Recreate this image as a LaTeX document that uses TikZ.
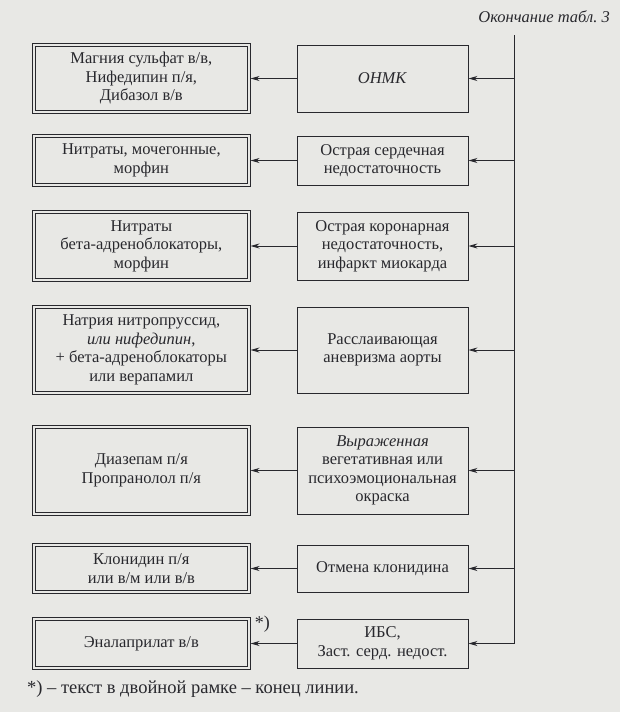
\documentclass[tikz,border=0pt]{standalone}
\usepackage{fontspec}
\setmainfont{Liberation Serif}
\usepackage{xcolor}
\usetikzlibrary{positioning}
\usetikzlibrary{arrows.meta}
\definecolor{paper}{RGB}{232,232,229}
\definecolor{ink}{RGB}{40,40,45}
\tikzstyle{cause} = [rectangle, minimum width=171pt, text centered, align=center, draw=ink, line width=0.9pt]
\tikzstyle{drug} = [rectangle, minimum width=215pt, text centered, align=center, draw=ink, line width=0.7pt, double=paper, double distance=2pt, outer sep=1.7pt]
\tikzstyle{arrow} = [line width=0.9pt, draw=ink, ->, >={Stealth[length=9pt,width=5pt]}]

\begin{document}
\begin{tikzpicture}[x=1pt, y=1pt, font=\fontsize{16.5}{18.5}\selectfont, text=ink]

    \fill [paper] (0,0) rectangle (620,-712);
    \useasboundingbox (0,0) rectangle (620,-712);

    \node (tabtitle) [anchor=base east, inner sep=0pt] at (610,-23) {\itshape Окончание табл.~3};

    \node (onmk) [cause, minimum height=67pt] at (382.5,-78.5) {\textit{ОНМК}};
    \node (ostrserd) [cause, minimum height=49pt] at (382.5,-160.5) {Острая сердечная\\недостаточность};
    \node (koron) [cause, minimum height=68pt] at (382.5,-246) {Острая коронарная\\недостаточность,\\инфаркт миокарда};
    \node (anevr) [cause, minimum height=86pt] at (382.5,-350) {Расслаивающая\\аневризма аорты};
    \node (vegetat) [cause, minimum height=87pt] at (382.5,-470.5) {\textit{Выраженная}\\вегетативная или\\психоэмоциональная\\окраска};
    \node (otmena) [cause, minimum height=47pt] at (382.5,-568.5) {Отмена клонидина};
    \node (ibs) [cause, minimum height=49pt] at (382.5,-643.5) {ИБС,\\Заст. серд. недост.};

    \node (magn) [drug, minimum height=67pt, left=46pt of onmk] {Магния сульфат в/в,\\Нифедипин п/я,\\Дибазол в/в};
    \node (nitrmoch) [drug, minimum height=49pt, left=46pt of ostrserd] {Нитраты, мочегонные,\\морфин};
    \node (nitrbeta) [drug, minimum height=68pt, left=46pt of koron] {Нитраты\\бета-адреноблокаторы,\\морфин};
    \node (nitroprus) [drug, minimum height=86pt, left=46pt of anevr] {Натрия нитропруссид,\\\textit{или нифедипин},\\+ бета-адреноблокаторы\\или верапамил};
    \node (diazep) [drug, minimum height=87pt, left=46pt of vegetat] {Диазепам п/я\\Пропранолол п/я};
    \node (klonid) [drug, minimum height=47pt, left=46pt of otmena] {Клонидин п/я\\или в/м или в/в};
    \node (enal) [drug, minimum height=49pt, left=46pt of ibs] {Эналаприлат в/в};

    \node (star) [below right=-1pt and 4pt of enal.north east, inner sep=0pt, font=\fontsize{18}{20}\selectfont] {*)};
    \node (footnote) [anchor=base west, inner sep=0pt, font=\fontsize{18.5}{20}\selectfont] at (27,-693) {*) – текст в двойной рамке – конец линии.};

    \coordinate (trunktop) at (514,-35);
    \draw [arrow] (trunktop) |- (ibs);
    \draw [arrow] (onmk -| trunktop) -- (onmk);
    \draw [arrow] (ostrserd -| trunktop) -- (ostrserd);
    \draw [arrow] (koron -| trunktop) -- (koron);
    \draw [arrow] (anevr -| trunktop) -- (anevr);
    \draw [arrow] (vegetat -| trunktop) -- (vegetat);
    \draw [arrow] (otmena -| trunktop) -- (otmena);

    \draw [arrow] (onmk) -- (magn);
    \draw [arrow] (ostrserd) -- (nitrmoch);
    \draw [arrow] (koron) -- (nitrbeta);
    \draw [arrow] (anevr) -- (nitroprus);
    \draw [arrow] (vegetat) -- (diazep);
    \draw [arrow] (otmena) -- (klonid);
    \draw [arrow] (ibs) -- (enal);
\end{tikzpicture}
\end{document}
